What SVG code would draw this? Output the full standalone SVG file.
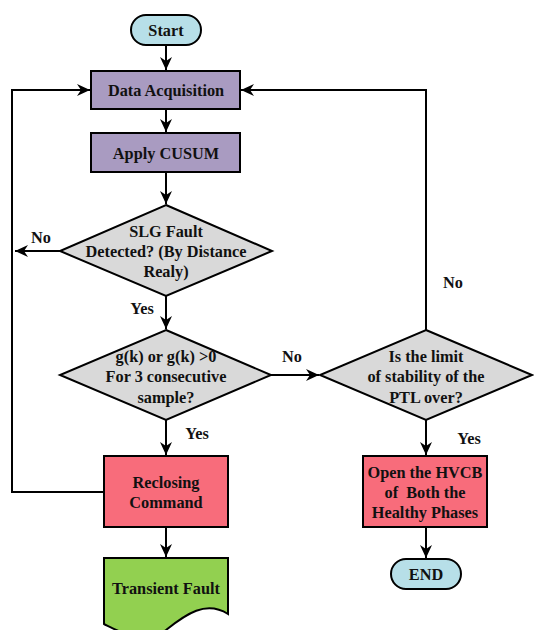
<svg xmlns="http://www.w3.org/2000/svg" width="534" height="630" viewBox="0 0 534 630">
<defs>
<marker id="ah" markerWidth="14" markerHeight="12" refX="13" refY="6" orient="auto" markerUnits="userSpaceOnUse">
<path d="M0,0 L13,6 L0,12 L4,6 Z" fill="#000"/>
</marker>
<style>
.t{font-family:'Liberation Serif','DejaVu Serif',serif;font-weight:bold;font-size:16.3px;fill:#111;text-anchor:middle}
.s{stroke:#000;stroke-width:2}
.c{fill:none;stroke:#000;stroke-width:2}
</style>
</defs>
<rect width="534" height="630" fill="#fff"/>
<g id="connectors">
<path class="c" d="M166,45 V70" marker-end="url(#ah)"/>
<path class="c" d="M166,109 V132" marker-end="url(#ah)"/>
<path class="c" d="M166,172 V204" marker-end="url(#ah)"/>
<path class="c" d="M60,251 H15" marker-end="url(#ah)"/>
<path class="c" d="M166,296 V329" marker-end="url(#ah)"/>
<path class="c" d="M271,375 H319" marker-end="url(#ah)"/>
<path class="c" d="M426,330 V90 H241" marker-end="url(#ah)"/>
<path class="c" d="M104,492 H12 V90 H90" marker-end="url(#ah)"/>
<path class="c" d="M166,420 V455" marker-end="url(#ah)"/>
<path class="c" d="M426,420 V455" marker-end="url(#ah)"/>
<path class="c" d="M166,527 V557" marker-end="url(#ah)"/>
<path class="c" d="M426,527 V558" marker-end="url(#ah)"/>
<text class="t" x="41" y="243">No</text>
<text class="t" x="142" y="314">Yes</text>
<text class="t" x="292" y="362">No</text>
<text class="t" x="453" y="288">No</text>
<text class="t" x="197" y="439">Yes</text>
<text class="t" x="469" y="444">Yes</text>
</g>
<g id="start">
<rect class="s" x="131" y="15" width="70" height="30" rx="15" fill="#b7dfe8"/>
<text class="t" x="166" y="35.5">Start</text>
</g>
<g id="data-acquisition">
<rect class="s" x="91" y="71" width="149" height="38" fill="#a99bc1"/>
<text class="t" x="166" y="95.5">Data Acquisition</text>
</g>
<g id="apply-cusum">
<rect class="s" x="91" y="133" width="149" height="39" fill="#a99bc1"/>
<text class="t" x="166" y="158.5">Apply CUSUM</text>
</g>
<g id="slg-fault">
<polygon class="s" points="166,205 272,251 166,296 60,251" fill="#d9d9d9"/>
<text class="t" x="166" y="236.5">SLG Fault</text>
<text class="t" x="166" y="256.5">Detected? (By Distance</text>
<text class="t" x="166" y="276.5">Realy)</text>
</g>
<g id="gk">
<polygon class="s" points="166,330 271,375 166,420 60,375" fill="#d9d9d9"/>
<text class="t" x="166" y="361.5">g(k) or g(k) &gt;0</text>
<text class="t" x="166" y="381.5">For 3 consecutive</text>
<text class="t" x="166" y="402.5">sample?</text>
</g>
<g id="stability">
<polygon class="s" points="426,330 532,375 426,420 320,375" fill="#d9d9d9"/>
<text class="t" x="426" y="361.5">Is the limit</text>
<text class="t" x="426" y="381.5">of stability of the</text>
<text class="t" x="426" y="402.5">PTL over?</text>
</g>
<g id="reclosing">
<rect class="s" x="104" y="456" width="124" height="71" fill="#f86c7b"/>
<text class="t" x="166" y="487.5">Reclosing</text>
<text class="t" x="166" y="507.5">Command</text>
</g>
<g id="open-hvcb">
<rect class="s" x="363" y="456" width="124" height="71" fill="#f86c7b"/>
<text class="t" x="425" y="477.5">Open the HVCB</text>
<text class="t" x="425" y="497.5" style="white-space:pre">of  Both the</text>
<text class="t" x="425" y="517.5">Healthy Phases</text>
</g>
<g id="transient-fault">
<path class="s" d="M104,558 H228 V614 C206,600 186,614 166,630 C144,646 120,632 104,624 Z" fill="#92d050"/>
<text class="t" x="166" y="593.5">Transient Fault</text>
</g>
<g id="end">
<rect class="s" x="391" y="559" width="70" height="30" rx="15" fill="#b7dfe8"/>
<text class="t" x="426" y="579.5">END</text>
</g>
</svg>
